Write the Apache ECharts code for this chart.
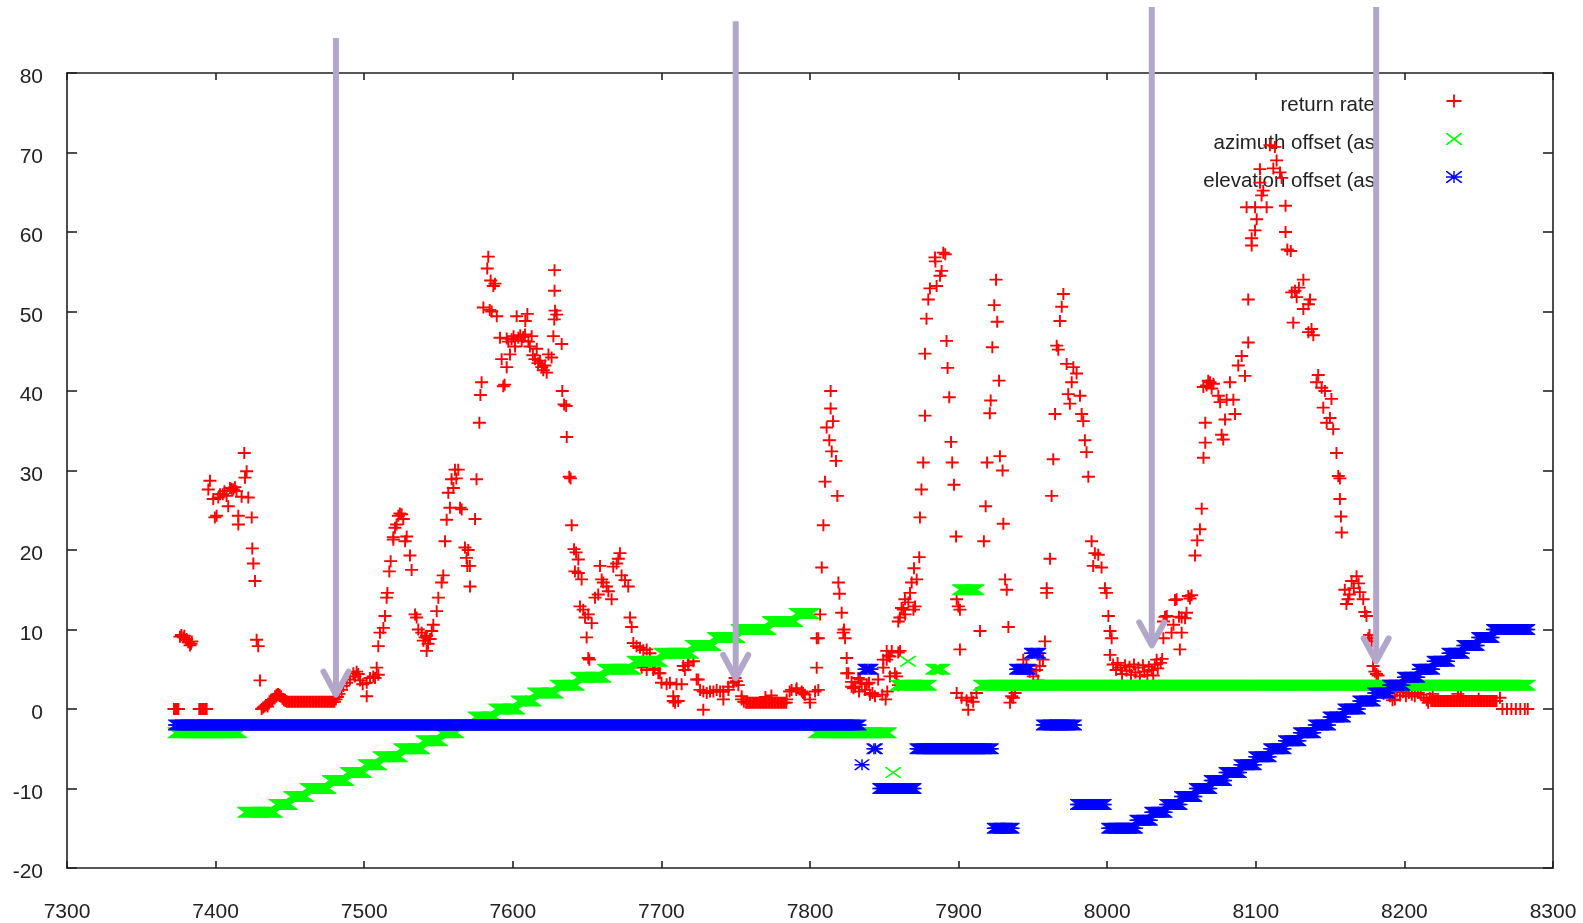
<!DOCTYPE html>
<html>
<head>
<meta charset="utf-8">
<title>return rate and pointing offsets</title>
<script src="https://cdn.jsdelivr.net/npm/echarts/dist/echarts.min.js"></script>
<style>
  html, body { margin: 0; padding: 0; background: #ffffff; }
  #chart { width: 1583px; height: 923px; }
</style>
</head>
<body>
<div id="chart"></div>
<script>
// ---- axis ticks ----
const xTicks = { min: 7300, max: 8300, step: 100 };
const yTicks = { min: -20, max: 80, step: 10 };

// ---- series names ----
const seriesNames = ['return rate', 'azimuth offset (as', 'elevation offset (as'];

// ---- return rate: individual samples [time, value] ----
const returnRatePoints = [
  [7376,9.1],[7377,9.3],[7378.3,9.0],[7379,9.2],[7380.5,8.8],[7381.6,8.4],[7382.8,8.0],[7383.5,8.2],[7384,8.5],
  [7395.1,27.6],[7396.2,28.7],[7398.4,26.4],[7399.5,24.1],[7400.7,24.3],[7401.8,26.6],[7403,27.0],[7404.8,27.0],
  [7406,27.4],[7407.4,26.8],[7408.5,25.5],[7409.7,27.8],[7410.8,27.7],[7411.9,27.6],[7413,27.9],[7414.1,27.4],
  [7415.3,24.3],[7415.3,23.2],[7417.5,26.7],[7419.3,32.2],[7419.8,29.1],[7420.9,29.9],[7422,26.6],[7424.3,24.1],
  [7424.7,20.2],[7425.4,18.3],[7426.5,16.1],[7427.6,8.7],[7428.7,7.9],[7429.9,3.6],
  [7431,0],[7432,0.2],[7433,0.3],[7434,0.5],[7435,0.3],[7436,0.7],[7437,0.9],[7438,1.1],[7439,1.3],[7440,1.6],
  [7441,1.8],[7442,1.9],[7443,1.8],[7444,1.6],[7445,1.3],[7446,1.1],[7447,1.0],
  [7481,1.2],[7482,1.5],[7483,1.9],[7484.8,2.4],[7486,2.9],[7488.2,3.3],[7490.4,3.7],[7492.7,4.5],[7493.8,4.1],
  [7494.9,4.7],[7496,4.4],[7497.2,3.6],[7499,3.1],[7501.7,3.3],[7501.7,1.6],[7503.9,3.9],[7506.1,4.1],[7507.3,3.9],
  [7508.4,5.2],[7509.5,4.3],
  [7509.5,7.9],[7510.6,9.6],[7512.9,10.2],[7514,11.7],[7515.1,14.0],[7515.6,14.6],[7516.9,17.3],[7517.8,18.6],
  [7519.6,21.3],[7519.6,21.6],[7520.7,22.8],[7521.8,23.2],[7523,24.3],[7524,24.6],[7525.2,24.5],[7526.3,23.9],
  [7527.5,21.1],[7528.6,21.7],[7530.8,19.3],[7531.9,17.5],
  [7534.2,11.9],[7535.3,11.5],[7536.4,10.0],[7538.7,9.6],[7539.8,8.6],[7541,9.0],[7542,9.2],[7542,7.3],[7543,8.2],
  [7544.3,8.8],[7545.4,9.8],[7546.5,10.6],[7548.8,12.3],[7549.9,14.0],[7552.1,15.9],[7553.2,16.8],[7554.4,21.1],
  [7555.5,23.8],[7556.6,27.2],[7557.7,25.3],[7558.8,28.9],[7560,27.8],[7561.1,30.1],[7562,29.0],[7563.3,30.1],
  [7564.5,25.3],[7565.6,25.1],[7567.8,20.3],[7568.9,19.0],[7569.4,18.0],[7570,20.0],[7571.1,18.0],[7571.2,15.4],
  [7574.6,23.9],[7575.6,28.9],
  [7577.5,36.0],[7578.2,39.5],[7579,41.1],[7580.2,50.5],[7582.8,55.4],[7583.5,56.9],[7584.5,50.2],[7585.1,53.9],
  [7585.8,50.0],[7586.9,53.2],[7588,53.5],[7589.2,49.4],[7591.4,46.7],[7592.5,44.0],[7593.6,40.6],[7594.5,40.8],
  [7595.9,46.6],[7595.9,43.0],[7597,46.2],[7598.1,44.6],[7599.2,46.5],[7600.5,46.9],[7601.5,45.6],[7602.6,49.4],
  [7603.7,46.7],[7605,47.0],[7606,46.3],[7607,46.8],[7608.2,47.1],[7608.4,48.8],[7609.8,49.7],[7610.5,46.2],
  [7611.5,45.6],[7612.7,46.9],[7613.5,44.5],[7614.9,44.0],[7616.1,45.3],[7617,43.5],[7618.3,43.8],[7619.5,43.0],
  [7620.5,42.6],[7621.6,43.2],[7622.8,42.3],[7624,44.6],[7626.1,44.2],[7627.3,46.9],[7627.9,49.0],[7628.4,50.1],
  [7628.1,52.6],[7628.1,55.2],[7629.6,49.6],[7632.9,45.9],[7633.3,40.0],[7634.5,38.3],[7635.9,38.1],[7636.3,34.2],
  [7638,29.2],[7638.9,29.0],[7639.6,23.1],[7641.2,20.1],[7641.8,17.3],[7642.6,19.7],[7644.1,18.8],[7644.1,17.1],
  [7645.2,12.9],[7646.3,16.3],[7647.4,12.5],[7648.6,11.5],[7649.7,9.0],[7650.8,11.9],[7650.8,6.4],[7651.5,6.2],
  [7653.1,10.8],[7655.3,14.0],[7657.5,14.4],[7658.7,18.0],[7659.8,16.3],[7660.9,15.9],[7663.1,15.4],[7664.3,14.8],
  [7666.5,13.8],[7667.6,17.9],[7669.9,18.3],[7671,18.9],[7672.1,19.6],[7673.2,16.8],[7675.5,16.2],[7677.7,15.4],
  [7678.9,11.5],[7680,10.3],[7681.1,8.3],[7683.3,7.9],[7685.6,7.7],[7686.7,5.2],[7687.8,7.4],[7690.1,7.5],
  [7690.1,4.9],[7692.3,7.0],[7694.5,4.9],[7695.5,5.1],[7697.9,4.5],[7699,4.5],[7700.1,3.3],[7703.5,3.1],
  [7705.7,3.3],[7708,1.0],[7708,1.6],[7709.2,0.8],[7710.2,3.1],[7711.3,1.0],[7713.6,3.1],[7714.7,5.4],[7715.8,4.9],
  [7718.1,5.8],[7718.1,5.5],[7721.5,6.0],[7723.7,3.7],[7724.8,3.7],[7726,2.4],[7728.2,2.2],[7728.2,-0.1],
  [7730.5,2.0],[7732.7,2.2],[7735,2.2],[7737.2,2.4],[7739.5,2.2],[7741.7,1.2],[7741.7,2.2],[7745,2.8],[7745.1,2.4],
  [7748.4,3.3],[7749.6,3.9],[7750.5,3.5],[7751.8,3.0],[7754,1.6],[7754,1.2],[7755.5,0.9],
  [7770,1.5],[7774,1.7],
  [7784.3,1.2],[7786.3,2.2],[7787.6,2.4],[7790.8,2.4],[7791,2.6],[7794.4,2.2],[7795.3,2.0],[7796.6,1.8],
  [7799.8,1.2],[7800,0.8],[7803.4,2.2],[7805.6,2.4],
  [7804.5,5.2],[7804.5,8.9],[7805.6,8.9],[7806.8,11.9],[7807.9,17.8],[7809,23.1],[7810.1,28.6],[7811.2,35.4],
  [7813,33.8],[7813.9,37.8],[7813.9,40.0],[7814.6,32.4],[7815.5,36.2],[7817.5,31.2],[7818.4,26.8],[7819.1,15.9],
  [7819.8,14.5],[7821.3,12.1],[7822.4,9.6],[7822.9,10.0],[7823.6,8.9],[7824.7,6.4],[7824.7,4.5],[7825.8,4.5],
  [7828,3.4],[7828,2.8],[7829.2,2.6],[7830.3,2.8],[7832.5,3.9],[7833,2.2],[7833.7,3.7],[7834.8,3.2],[7837,2.4],
  [7838.2,3.1],[7839.7,3.3],[7840.4,1.8],[7842,2.0],[7843.7,1.6],[7845.9,3.7],[7848.7,1.8],[7849.3,5.2],
  [7849.3,6.2],[7850.9,1.2],[7851.6,6.2],[7851.6,7.3],[7852,2.2],[7852.7,6.7],[7853.8,4.1],[7853.8,6.6],[7855,7.3],
  [7857.1,4.5],[7858.3,4.1],[7859.5,3.0],[7859.4,7.1],[7860.6,7.3],
  [7859.4,11.0],[7860.5,11.5],[7861.6,12.7],[7862.8,12.5],[7863.9,13.8],[7864,11.9],[7866.2,13.4],[7867.3,14.6],
  [7868.4,15.9],[7869.6,12.5],[7870,17.7],[7870.7,12.9],[7871.8,16.3],
  [7873.5,19.1],[7874,24.1],[7875,27.6],[7876.2,31.0],[7877.4,36.9],[7877.4,44.7],[7878.4,49.1],[7879.6,51.5],
  [7880.7,52.9],[7884.1,56.8],[7884.4,56.3],[7885.2,53.2],[7887.5,54.5],[7888.6,55.1],[7889.7,57.4],[7891,57.2],
  [7891.9,46.3],[7892.6,42.9],[7893.7,39.2],[7894.9,33.6],[7895.7,31.0],[7896.9,28.2],[7898.3,21.7],[7898.7,13.8],
  [7898.7,2.0],[7899.8,12.9],[7900.9,7.5],[7900.9,12.5],[7902,1.4],[7905.4,1.1],[7906.5,-0.1],[7908.7,1.4],
  [7909.8,0.9],[7912,2.0],[7914.4,9.8],[7917,21.1],[7918.2,25.5],[7919.2,31.0],[7921,37.2],[7921.6,38.8],
  [7922.7,45.5],[7924,50.8],[7925.2,54.0],[7926,48.7],[7927.2,41.3],[7927.8,31.8],[7929.6,30.0],[7930.1,23.3],
  [7931.3,16.3],[7932.4,15.0],[7933.5,10.3],[7934.6,0.8],[7935.7,1.6],[7936.8,1.4],[7938,2.0],
  [7943.5,6.2],[7945.7,5.5],[7947.9,4.7],[7950.2,4.1],[7952.4,4.9],[7953.5,3.6],[7954.6,5.4],[7956.8,6.2],
  [7958.1,8.5],[7959.3,14.6],[7959.3,15.2],[7961.5,18.9],[7962.6,26.8],[7963.7,31.4],[7964.9,37.1],[7966,45.7],
  [7967.1,45.2],[7968.2,48.8],[7969.4,50.6],[7970.5,52.2],[7972.7,43.4],[7973.8,39.6],[7974.9,38.4],[7976.1,41.1],
  [7977.2,43.0],[7979.4,42.2],[7981.7,39.4],[7982.8,37.1],[7983.9,36.2],[7985,33.8],[7986.1,32.3],[7987.3,29.2],
  [7989.5,21.1],[7990.6,18.0],[7991.7,19.6],[7994,19.4],[7996.2,17.8],[7998.5,15.2],[7999.6,14.6],[8000.8,11.7],
  [8001.9,9.8],[8001.9,6.8],[8003,8.9],
  [8004,5.6],[8006,4.9],[8007,5.8],[8009,5.2],[8010,4.4],[8012,5.5],[8013,4.8],[8015,5.3],[8016,4.3],[8018,5.6],
  [8019,4.6],[8021,5.2],[8022,4.1],[8024,5.5],[8025,4.7],[8027,4.3],[8028,5.3],[8030,4.9],[8031,4.2],[8032,5.6],
  [8033.3,6.2],[8034,5.1],[8036,5.8],[8037,6.3],
  [8037.8,8.9],[8037.9,11.0],[8038.9,11.6],[8040.1,11.7],[8043.3,9.6],[8044.6,10.6],[8045.6,13.7],[8046.7,13.8],
  [8048.3,11.6],[8048.9,7.5],[8050.1,9.6],[8050.1,11.5],[8052.4,11.4],[8053.4,12.1],[8054.6,14.2],[8055.7,13.9],
  [8056.8,14.3],[8059.1,19.3],[8060.6,21.2],[8062.4,22.6],[8063.6,25.2],[8064.8,31.6],[8066,33.5],[8066,36.0],
  [8064.7,40.5],[8066.9,40.7],[8068,41.3],[8069.2,41.1],[8070.3,40.3],[8071.5,40.9],[8074.8,39.4],[8076,38.6],
  [8077,34.5],[8078.1,33.9],[8079.3,36.4],[8080.4,38.9],[8082.6,41.1],[8084.9,38.9],[8086,37.1],[8088.2,43.2],
  [8090.5,44.4],[8092.7,41.9],[8094.9,46.1],[8094.9,51.5],
  [8093.8,63.1],[8097.2,58.3],[8097.2,59.2],[8099.5,60.2],[8099.5,63.1],[8100.6,61.6],[8102.8,66.2],[8102.8,67.9],
  [8103.9,64.6],[8105,65.2],[8107.3,63.1],[8109.5,70.9],[8111.8,68.0],[8112.9,70.7],[8114,69.0],[8116.3,67.5],
  [8117.4,66.8],[8120,63.3],[8120,60.0],[8121.2,57.8],[8123.5,57.6],
  [8124.2,52.4],[8125.2,48.6],[8126.4,52.6],[8127.5,51.8],[8129,53.0],[8132,54.0],[8132,50.3],[8135.4,50.9],
  [8135.4,47.4],[8136.5,51.5],[8137.5,47.8],[8138.7,47.0],[8140.9,41.1],[8142,42.0],[8144.3,40.4],[8145.4,37.9],
  [8146.5,40.0],[8147.7,36.0],[8149.9,36.6],[8150.9,39.0],[8152.1,35.2],[8154.3,32.2],[8155.5,29.3],[8156.6,29.0],
  [8156.6,26.4],[8157.3,24.2],[8157.8,22.2],[8159.9,15.0],[8161,13.2],[8162.1,13.8],[8163,14.4],[8164.5,16.1],
  [8166,15.2],[8167.8,16.7],[8169.2,15.8],[8170,14.7],[8172.3,13.8],[8173.4,12.2],[8174.5,11.7],[8175.6,8.9],
  [8176.5,9.3],[8177.9,8.5],[8178.9,5.4],[8180.1,4.7],[8181.2,4.4],[8182.3,4.2],
  [8184,2.8],[8185,2.3],[8186,1.9],[8188,2.4],[8190.3,1.6],[8192,1.1],[8193.6,1.2],[8195,2.2],[8197,1.7],
  [8199,2.1],[8201,1.6],[8203,2.0],[8205,1.8],[8207,1.6],[8209,2.0],[8211,1.8],[8213,1.4],[8215,1.1],[8216,0.8],
  [8217,1.4],[8219,1.9],[8236,1.9],[8238,1.6],[8250,1.3],[8264.3,1.4],
  [8266,0],[8269,0],[8272,0],[8275,0],[8278,0],[8281,0],[8283,0]
];

// ---- return rate: flat stretches sampled every time unit [from, to, value] ----
const returnRateRuns = [
  [7372, 7375, 0], [7389, 7394, 0], [7448, 7480, 0.9], [7757, 7784, 0.8], [8218, 8262, 1.0]
];

// ---- azimuth offset: constant stretches [from, to, value] ----
const azimuthRuns = [
  [7373, 7416, -3], [7420, 7440, -13], [7441, 7450, -12], [7451, 7461, -11], [7462, 7476, -10],
  [7477, 7488, -9], [7489, 7500, -8], [7501, 7510, -7], [7511, 7524, -6], [7525, 7539, -5],
  [7540, 7551, -4], [7552, 7562, -3], [7563, 7574, -2], [7575, 7588, -1], [7589, 7603, 0],
  [7604, 7614, 1], [7615, 7629, 2], [7630, 7643, 3], [7644, 7661, 4], [7662, 7681, 5],
  [7682, 7699, 6], [7700, 7720, 7], [7721, 7735, 8], [7736, 7751, 9], [7752, 7772, 10],
  [7773, 7790, 11], [7791, 7801, 12], [7804, 7853, -3], [7856, 7856, -8], [7859, 7880, 3],
  [7866, 7866, 6], [7883, 7889, 5], [7901, 7912, 15], [7915, 8283, 3]
];

// ---- elevation offset: constant stretches [from, to, value] ----
const elevationRuns = [
  [7373, 7833, -2], [7835, 7835, -7], [7837, 7841, 5], [7843, 7844, -5], [7847, 7870, -10],
  [7872, 7922, -5], [7924, 7936, -15], [7939, 7947, 5], [7949, 7954, 7], [7957, 7978, -2],
  [7980, 7998, -12], [8001, 8019, -15], [8020, 8029, -14], [8030, 8039, -13], [8040, 8049, -12],
  [8050, 8059, -11], [8060, 8069, -10], [8070, 8079, -9], [8080, 8089, -8], [8090, 8099, -7],
  [8100, 8109, -6], [8110, 8119, -5], [8120, 8129, -4], [8130, 8139, -3], [8140, 8149, -2],
  [8150, 8159, -1], [8160, 8169, 0], [8170, 8179, 1], [8180, 8189, 2], [8190, 8199, 3],
  [8200, 8209, 4], [8210, 8219, 5], [8220, 8229, 6], [8230, 8239, 7], [8240, 8249, 8],
  [8250, 8259, 9], [8260, 8283, 10]
];

// ---- annotation arrows: time, top of shaft, tip ----
const arrowTimes = [7481, 7750, 8030, 8181];
const arrowTops  = [84.4, 86.5, 88.3, 88.3];
const arrowTips  = [1.8, 3.9, 8.0, 6.0];

// one sample per time unit over each constant stretch
function samplesFromRuns(runs) {
  const out = [];
  runs.forEach(([from, to, v]) => {
    for (let t = from; t <= to; t += 1) out.push([t, v]);
  });
  return out;
}

const FONT = 'Liberation Sans';
const INK = '#222222';
const RED = '#ff0000', GREEN = '#00ff00', BLUE = '#0000ff';
const ARROW = '#b2a6ca';

// point glyphs: plus, cross, star
const PLUS = 'path://M0,5H13V6.9H0Z M5.55,0H7.45V12H5.55Z';
const CROSS = 'path://M0,0L1.4,0L16,10.05L16,11L14.6,11L0,0.95Z M16,0L16,0.95L1.4,11L0,11L0,10.05L14.6,0Z';
const STAR = 'path://M0,4.75H15V6.25H0Z M6.75,0H8.25V11H6.75Z M0,0L1.3,0L15,10.05L15,11L13.7,11L0,0.95Z M15,0L15,0.95L1.3,11L0,11L0,10.05L13.7,0Z';

// key glyphs sit at the right end of an 82x30 box so the label stands well clear
const KEY_BOX = 'M0,0L0.01,0Z M82,30L81.99,30Z ';
const KEY_PLUS = 'path://' + KEY_BOX + 'M66.5,10.1H81.5V11.9H66.5Z M73.1,4.5H74.9V17.5H73.1Z';
const KEY_CROSS = 'path://' + KEY_BOX + 'M66,5L67.5,5L82,16L82,17L80.5,17L66,6Z M82,5L82,6L67.5,17L66,17L66,16L80.5,5Z';
const KEY_STAR = 'path://' + KEY_BOX + 'M66,10.3H82V11.7H66Z M73.3,5H74.7V17H73.3Z M66,5L67.3,5L82,16L82,17L80.7,17L66,6Z M82,5L82,6L67.3,17L66,17L66,16L80.7,5Z';

const chart = echarts.init(document.getElementById('chart'), null, { renderer: 'canvas' });

const frameLine = { color: INK, width: 1.6 };

function xAxisDef(position, withLabels) {
  return {
    type: 'value', position: position,
    min: xTicks.min, max: xTicks.max, interval: xTicks.step,
    axisLine: { show: true, onZero: false, lineStyle: frameLine },
    axisTick: { show: true, inside: true, length: 7, lineStyle: frameLine },
    axisLabel: {
      show: withLabels, margin: 34, fontSize: 21, color: INK, fontFamily: FONT,
      formatter: function (v) { return String(v); }
    },
    splitLine: { show: false }
  };
}
function yAxisDef(position, withLabels) {
  return {
    type: 'value', position: position,
    min: yTicks.min, max: yTicks.max, interval: yTicks.step,
    axisLine: { show: true, onZero: false, lineStyle: frameLine },
    axisTick: { show: true, inside: true, length: 10, lineStyle: frameLine },
    axisLabel: {
      show: withLabels, margin: 24, fontSize: 21, color: INK, fontFamily: FONT,
      verticalAlign: 'top', lineHeight: 9.4,
      formatter: function (v) { return String(v); }
    },
    splitLine: { show: false }
  };
}

const option = {
  animation: false,
  backgroundColor: '#ffffff',
  textStyle: { fontFamily: FONT },
  grid: { left: 67, right: 30, top: 73, bottom: 55, containLabel: false, outerBoundsMode: 'none' },
  xAxis: [xAxisDef('bottom', true), xAxisDef('top', false)],
  yAxis: [yAxisDef('left', true), yAxisDef('right', false)],
  legend: {
    orient: 'vertical', align: 'right',
    right: 121, top: 90, padding: 0, itemGap: 8,
    itemWidth: 82, itemHeight: 30, z: 1,
    selectedMode: false,
    textStyle: { fontSize: 20.5, color: INK, fontFamily: FONT },
    data: [
      { name: seriesNames[0], icon: KEY_PLUS },
      { name: seriesNames[1], icon: KEY_CROSS },
      { name: seriesNames[2], icon: KEY_STAR }
    ]
  },
  series: [
    {
      name: seriesNames[0], type: 'scatter', xAxisIndex: 0, yAxisIndex: 0,
      symbol: PLUS, symbolSize: [13, 12], silent: true, progressive: 0, z: 2,
      itemStyle: { color: RED, opacity: 1 },
      data: returnRatePoints.concat(samplesFromRuns(returnRateRuns))
    },
    {
      name: seriesNames[1], type: 'scatter', xAxisIndex: 0, yAxisIndex: 0,
      symbol: CROSS, symbolSize: [16, 11], silent: true, progressive: 0, z: 3,
      itemStyle: { color: GREEN, opacity: 1 },
      data: samplesFromRuns(azimuthRuns)
    },
    {
      name: seriesNames[2], type: 'scatter', xAxisIndex: 0, yAxisIndex: 0,
      symbol: STAR, symbolSize: [15, 11], silent: true, progressive: 0, z: 4,
      itemStyle: { color: BLUE, opacity: 1 },
      data: samplesFromRuns(elevationRuns)
    },
    {
      name: 'arrows', type: 'custom', xAxisIndex: 0, yAxisIndex: 0,
      clip: false, silent: true, z: 10,
      encode: { x: 0, y: [1, 2] },
      data: arrowTimes.map((t, i) => [t, arrowTops[i], arrowTips[i]]),
      renderItem: function (params, api) {
        const top = api.coord([api.value(0), api.value(1)]);
        const tip = api.coord([api.value(0), api.value(2)]);
        const style = { stroke: ARROW, lineWidth: 6, fill: null, lineCap: 'round', lineJoin: 'round' };
        return {
          type: 'group',
          children: [
            { type: 'line', shape: { x1: top[0], y1: top[1], x2: tip[0], y2: tip[1] - 3 },
              style: { stroke: ARROW, lineWidth: 6 } },
            { type: 'polyline',
              shape: { points: [[tip[0] - 12.5, tip[1] - 23], [tip[0], tip[1]], [tip[0] + 12.5, tip[1] - 23]] },
              style: style }
          ]
        };
      }
    }
  ]
};

chart.setOption(option);
</script>
</body>
</html>
